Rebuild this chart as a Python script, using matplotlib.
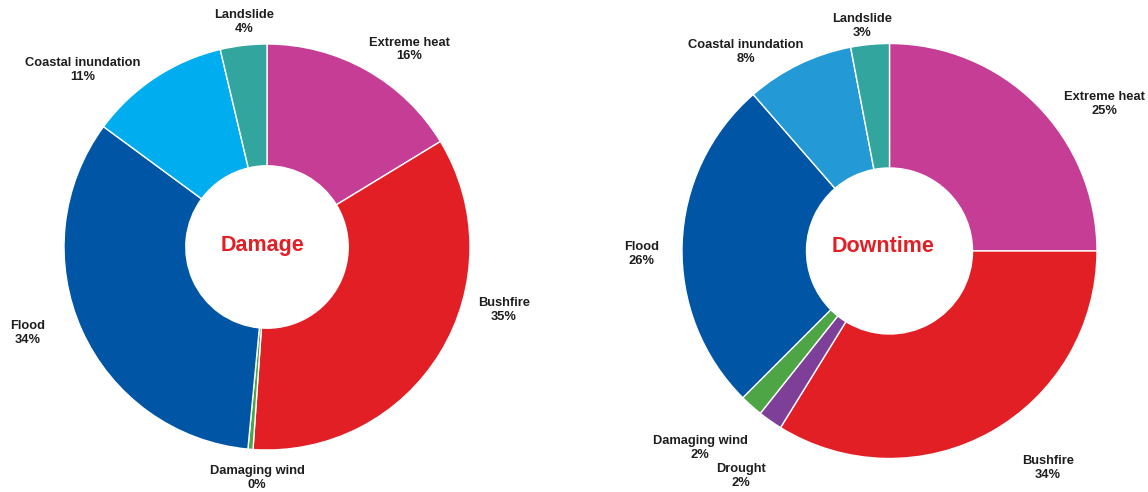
import matplotlib
matplotlib.use("Agg")
import matplotlib.pyplot as plt

# ---------------- data ----------------
damage_categories = ["Extreme heat", "Bushfire", "Damaging wind", "Flood",
                     "Coastal inundation", "Landslide"]
damage_values = [16.3, 34.8, 0.4, 33.6, 11.2, 3.7]

downtime_categories = ["Extreme heat", "Bushfire", "Drought", "Damaging wind",
                       "Flood", "Coastal inundation", "Landslide"]
downtime_values = [25.0, 33.8, 1.9, 1.8, 26.1, 8.4, 3.0]

# ---------------- styles ----------------
damage_colors = ["#C63D96", "#E31F26", "#4DA546", "#0055A5", "#00AEEF", "#33A59F"]
downtime_colors = ["#C63D96", "#E31F26", "#7E3F98", "#4DA546", "#0055A5", "#239AD6", "#33A59F"]

# label centres, in units of pie radius relative to pie centre
damage_label_pos = [(0.700, 0.973), (1.167, -0.310), (-0.049, -1.138),
                    (-1.177, -0.424), (-0.906, 0.872), (-0.113, 1.108)]
downtime_label_pos = [(1.034, 0.708), (0.764, -1.046), (-0.716, -1.084),
                      (-0.913, -0.949), (-1.193, -0.014), (-0.692, 0.959),
                      (-0.133, 1.084)]

W, H = 1148, 492
fig = plt.figure(figsize=(W / 100, H / 100), dpi=100)
fig.patch.set_facecolor("white")

FONT = ["Liberation Sans", "DejaVu Sans"]


def donut(cx, cy, r, values, cats, colors, label_pos, title, title_dx, title_dy):
    ax = fig.add_axes([(cx - r) / W, (H - cy - r) / H, 2 * r / W, 2 * r / H])
    ax.pie(values, colors=colors, startangle=90, counterclock=False, radius=1.0,
           wedgeprops=dict(width=0.6, edgecolor="white", linewidth=1.0))
    ax.set_xlim(-1, 1)
    ax.set_ylim(-1, 1)
    ax.set_aspect("equal")
    ax.axis("off")
    for cat, v, (lx, ly) in zip(cats, values, label_pos):
        ax.text(lx, ly, f"{cat}\n{v:.0f}%", ha="center", va="center",
                fontsize=9.3, fontweight="bold", color="#1E1E1E",
                family=FONT, linespacing=1.2, clip_on=False)
    ax.text(title_dx, title_dy, title, ha="center", va="center", fontsize=15.5,
            fontweight="bold", color="#E31F26", family=FONT)
    return ax


donut(267, 247, 203, damage_values, damage_categories, damage_colors,
      damage_label_pos, "Damage", -0.02, 0.005)
donut(889.5, 251, 207.5, downtime_values, downtime_categories, downtime_colors,
      downtime_label_pos, "Downtime", -0.03, 0.02)

fig.savefig("out.png", dpi=100, facecolor="white")
